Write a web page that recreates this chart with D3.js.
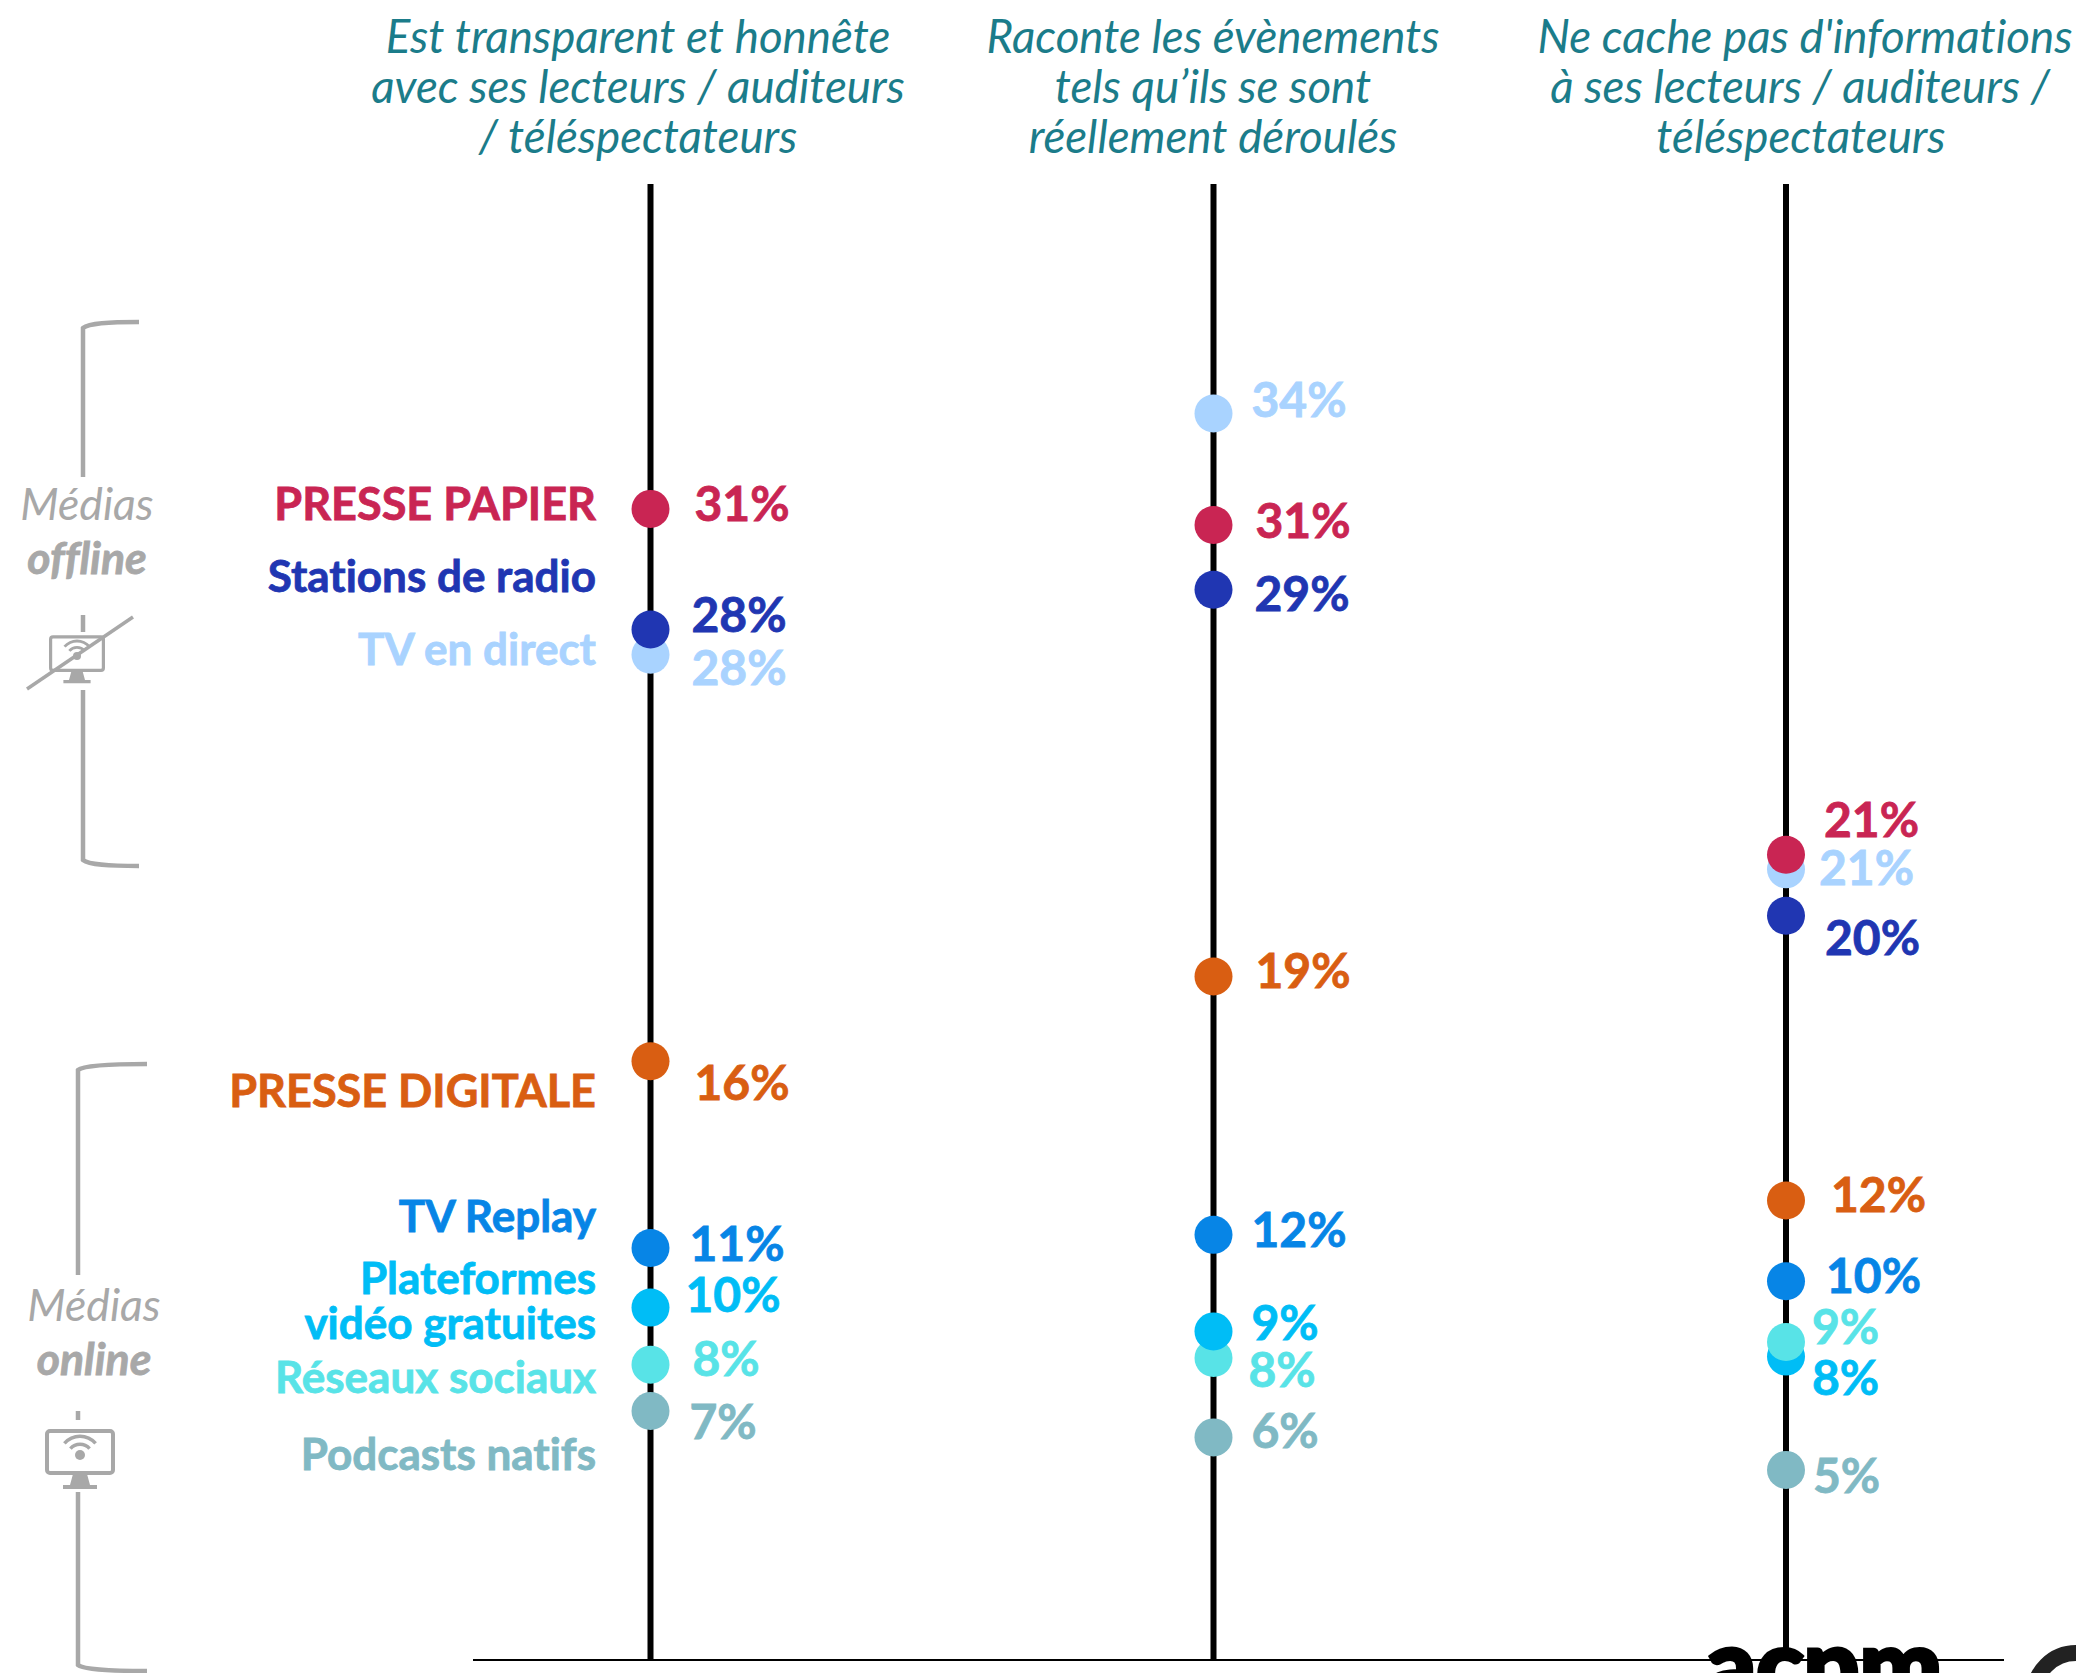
<!DOCTYPE html>
<html>
<head>
<meta charset="utf-8">
<script src="https://cdnjs.cloudflare.com/ajax/libs/d3/7.8.5/d3.min.js"></script>
<style>
  html, body { margin: 0; padding: 0; background: #fff; overflow: hidden; }
  text { font-family: Lato, "Open Sans", sans-serif; font-variant-ligatures: none; }
</style>
</head>
<body>
<div id="chart"></div>
<script>
const columns = ['c1', 'c2', 'c3'];
const headers = [
  ['Est transparent et honnête', 'avec ses lecteurs / auditeurs', '/ téléspectateurs'],
  ['Raconte les évènements', 'tels qu’ils se sont', 'réellement déroulés'],
  ["Ne cache pas d'informations", 'à ses lecteurs / auditeurs /', 'téléspectateurs']
];

// values, one per column
const pressePapier = [31.49, 31.05, 22.03];
const radio = [28.19, 29.28, 20.36];
const tvDirect = [27.5, 34.1, 21.63];
const presseDigitale = [16.38, 18.7, 12.57];
const tvReplay = [11.27, 11.63, 10.36];
const plateformes = [9.64, 8.99, 8.3];
const reseaux = [8.08, 8.26, 8.7];
const podcasts = [6.81, 6.09, 5.2];

// the printed percentages
const labelsPapier = ['31%', '31%', '21%'];
const labelsRadio = ['28%', '29%', '20%'];
const labelsDirect = ['28%', '34%', '21%'];
const labelsDigitale = ['16%', '19%', '12%'];
const labelsReplay = ['11%', '12%', '10%'];
const labelsPlateformes = ['10%', '9%', '8%'];
const labelsReseaux = ['8%', '8%', '9%'];
const labelsPodcasts = ['7%', '6%', '5%'];

const names = ['PRESSE PAPIER', 'Stations de radio', 'TV en direct', 'PRESSE DIGITALE',
  'TV Replay', 'Plateformes|vidéo gratuites', 'Réseaux sociaux', 'Podcasts natifs'];
const colors = ['#c92553', '#2036b2', '#a9d3ff', '#d95e12', '#0785e6', '#00bdf6', '#58e3e7', '#80b9c4'];

const series = [
  {v: pressePapier, l: labelsPapier}, {v: radio, l: labelsRadio}, {v: tvDirect, l: labelsDirect},
  {v: presseDigitale, l: labelsDigitale}, {v: tvReplay, l: labelsReplay},
  {v: plateformes, l: labelsPlateformes}, {v: reseaux, l: labelsReseaux}, {v: podcasts, l: labelsPodcasts}
];

// label placement by hand, the chart nudges them around the dots: [dx, dy] per column
const nudges = [
  [[44, -5], [42, -4], [38, -35]],
  [[41, -14], [41, 5], [39, 22]],
  [[41, 13], [38, -13], [33, -1]],
  [[44, 22], [42, -5], [45, -5]],
  [[39, -4], [38, -5], [40, -5]],
  [[35, -12], [38, -8], [26, 22]],
  [[42, -5], [35, 12], [26, -15]],
  [[39, 11], [38, -6], [27, 6]]
];
const nameY = [504, 577, 650, 1091, 1217, 1279, 1378, 1455];

const width = 2076, height = 1673;

const svg = d3.select('#chart').append('svg')
  .attr('width', width)
  .attr('height', height)
  .attr('viewBox', `0 0 ${width} ${height}`)
  .style('display', 'block');

const x = d3.scaleOrdinal().domain(columns).range([650.5, 1213.5, 1786]);
const y = d3.scaleLinear().domain([0, 34.1]).range([1660, 413.5]);

// I. Headers, the third one is not quite centred on its own first line
const headerX = [[638, 638, 638], [1213, 1213, 1213], [1805, 1800, 1801]];
headers.forEach((lines, i) => {
  svg.append('text')
    .attr('text-anchor', 'middle')
    .attr('font-style', 'italic')
    .attr('font-size', 45.7)
    .attr('fill', '#1b7c8a')
    .selectAll('tspan')
    .data(lines)
    .join('tspan')
      .attr('x', (d, j) => headerX[i][j])
      .attr('y', (d, j) => 53 + j * 50)
      .text(d => d);
});

// II. Axes
svg.selectAll('.col')
  .data(columns)
  .join('line')
    .attr('class', 'col')
    .attr('x1', d => x(d)).attr('x2', d => x(d))
    .attr('y1', 184).attr('y2', y(0))
    .attr('stroke', '#000')
    .attr('stroke-width', 6);

svg.append('line')
  .attr('x1', 473).attr('x2', 2004)
  .attr('y1', y(0)).attr('y2', y(0))
  .attr('stroke', '#000')
  .attr('stroke-width', 2);

// III. Dots and their labels, biggest value on top
columns.forEach((c, i) => {
  const rows = series.map((s, k) => ({k, v: s.v[i], l: s.l[i]}))
    .sort((a, b) => a.v - b.v);
  svg.append('g').selectAll('circle')
    .data(rows)
    .join('circle')
      .attr('cx', x(c))
      .attr('cy', d => y(d.v))
      .attr('r', 19)
      .attr('fill', d => colors[d.k]);
  svg.append('g').selectAll('text')
    .data(rows)
    .join('text')
      .attr('x', d => x(c) + nudges[d.k][i][0])
      .attr('y', d => y(d.v) + nudges[d.k][i][1])
      .attr('dy', '.35em')
      .attr('font-size', 48)
      .attr('font-weight', 700)
      .attr('fill', d => colors[d.k])
      .attr('stroke', d => colors[d.k])
      .attr('stroke-width', 0.8)
      .text(d => d.l);
});

// IV. Category names
names.forEach((n, k) => {
  const upper = n === n.toUpperCase();
  n.split('|').forEach((part, j) => {
    svg.append('text')
      .attr('x', 596)
      .attr('y', nameY[k] + j * 45)
      .attr('dy', '.35em')
      .attr('text-anchor', 'end')
      .attr('font-size', upper ? 45 : 44)
      .attr('font-weight', 700)
      .attr('fill', colors[k])
      .attr('stroke', colors[k])
      .attr('stroke-width', 0.8)
      .text(part);
  });
});

// V. Group brackets
const grey = '#a8a8a8';
function bracket(bx, top, bottom, right, gapTop, gapBottom, gaps) {
  const p = d3.path();
  p.moveTo(right, top);
  p.bezierCurveTo(right - 30, top, bx + 6, top + 1, bx, top + 6);
  p.lineTo(bx, gapTop);
  gaps.forEach(g => { p.moveTo(bx, g[0]); p.lineTo(bx, g[1]); });
  p.moveTo(bx, gapBottom);
  p.lineTo(bx, bottom - 6);
  p.bezierCurveTo(bx + 6, bottom - 1, right - 30, bottom, right, bottom);
  svg.append('path')
    .attr('d', p.toString())
    .attr('fill', 'none')
    .attr('stroke', grey)
    .attr('stroke-width', 4.5);
}
bracket(83, 322, 866, 139, 477, 690, [[615, 632]]);
bracket(78, 1064, 1671, 147, 1275, 1492, [[1411, 1420]]);

function groupLabel(cx, y1, y2, word) {
  svg.append('text').attr('x', cx).attr('y', y1).attr('dy', '.35em')
    .attr('text-anchor', 'middle').attr('font-style', 'italic')
    .attr('font-size', 44.5).attr('fill', grey).text('Médias');
  svg.append('text').attr('x', cx).attr('y', y2).attr('dy', '.35em')
    .attr('text-anchor', 'middle').attr('font-style', 'italic').attr('font-weight', 700)
    .attr('font-size', 44.5).attr('fill', grey).attr('stroke', grey).attr('stroke-width', 0.8)
    .text(word);
}
groupLabel(87, 504, 558, 'offline');
groupLabel(94, 1305, 1359, 'online');

function monitor(cx, cy, s) {
  const g = svg.append('g').attr('transform', `translate(${cx},${cy}) scale(${s})`);
  g.append('rect').attr('x', -33).attr('y', -29).attr('width', 66).attr('height', 42).attr('rx', 3)
    .attr('fill', 'none').attr('stroke', grey).attr('stroke-width', 4);
  [19, 11].forEach(a => {
    g.append('path')
      .attr('d', d3.arc().innerRadius(a).outerRadius(a + 3.5)
        .startAngle(-0.85).endAngle(0.85)())
      .attr('transform', 'translate(0,-3)')
      .attr('fill', grey);
  });
  g.append('circle').attr('cx', 0).attr('cy', -5).attr('r', 5).attr('fill', grey);
  g.append('path').attr('d', 'M-7,14 L7,14 L10,25 L17,25 L17,29 L-17,29 L-17,25 L-10,25 Z').attr('fill', grey);
}
monitor(77, 660, 0.8);
monitor(80, 1460, 1);
svg.append('line')
  .attr('x1', 27).attr('y1', 689).attr('x2', 133).attr('y2', 617)
  .attr('stroke', grey).attr('stroke-width', 3.5);

// VI. Logos cut by the page edge
svg.append('text')
  .attr('x', 1706).attr('y', 1700)
  .attr('font-size', 98).attr('font-weight', 900)
  .attr('fill', '#000').attr('stroke', '#000').attr('stroke-width', 4)
  .text('acpm');
svg.append('circle')
  .attr('cx', 2076).attr('cy', 1695).attr('r', 42)
  .attr('fill', 'none').attr('stroke', '#222').attr('stroke-width', 16);
</script>
</body>
</html>
